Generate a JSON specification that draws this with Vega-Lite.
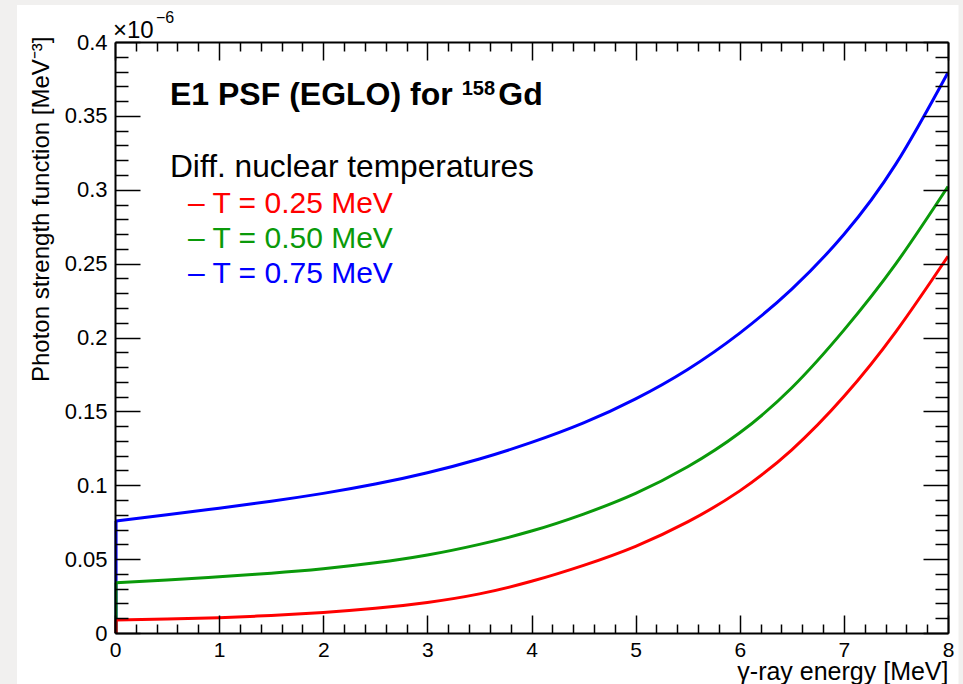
{
  "$schema": "https://vega.github.io/schema/vega-lite/v6.json",
  "width": 833,
  "height": 591,
  "autosize": {"type": "none"},
  "padding": {"left": 115, "top": 42, "right": 15, "bottom": 51},
  "background": "#f1f0ef",
  "config": {
    "view": {"stroke": null},
    "font": "Liberation Sans",
    "axis": {"labelFont": "Liberation Sans", "titleFont": "Liberation Sans", "labelColor": "black", "titleColor": "black", "domainColor": "black", "tickColor": "black", "grid": false}
  },
  "datasets": {
    "psf": [
      {"T": "0.75", "E": 0.01, "psf": 0.0758},
      {"T": "0.75", "E": 0.5, "psf": 0.0800},
      {"T": "0.75", "E": 1, "psf": 0.0845},
      {"T": "0.75", "E": 1.5, "psf": 0.0892},
      {"T": "0.75", "E": 2, "psf": 0.0945},
      {"T": "0.75", "E": 2.5, "psf": 0.1008},
      {"T": "0.75", "E": 3, "psf": 0.1085},
      {"T": "0.75", "E": 3.5, "psf": 0.1178},
      {"T": "0.75", "E": 4, "psf": 0.1290},
      {"T": "0.75", "E": 4.5, "psf": 0.1422},
      {"T": "0.75", "E": 5, "psf": 0.1585},
      {"T": "0.75", "E": 5.5, "psf": 0.1784},
      {"T": "0.75", "E": 6, "psf": 0.2030},
      {"T": "0.75", "E": 6.5, "psf": 0.2328},
      {"T": "0.75", "E": 7, "psf": 0.2697},
      {"T": "0.75", "E": 7.5, "psf": 0.3175},
      {"T": "0.75", "E": 8, "psf": 0.3794},
      {"T": "0.50", "E": 0.01, "psf": 0.0340},
      {"T": "0.50", "E": 0.5, "psf": 0.0359},
      {"T": "0.50", "E": 1, "psf": 0.0381},
      {"T": "0.50", "E": 1.5, "psf": 0.0405},
      {"T": "0.50", "E": 2, "psf": 0.0435},
      {"T": "0.50", "E": 2.5, "psf": 0.0475},
      {"T": "0.50", "E": 3, "psf": 0.0528},
      {"T": "0.50", "E": 3.5, "psf": 0.0600},
      {"T": "0.50", "E": 4, "psf": 0.0690},
      {"T": "0.50", "E": 4.5, "psf": 0.0805},
      {"T": "0.50", "E": 5, "psf": 0.0945},
      {"T": "0.50", "E": 5.5, "psf": 0.1125},
      {"T": "0.50", "E": 6, "psf": 0.1355},
      {"T": "0.50", "E": 6.5, "psf": 0.1660},
      {"T": "0.50", "E": 7, "psf": 0.2050},
      {"T": "0.50", "E": 7.5, "psf": 0.2500},
      {"T": "0.50", "E": 8, "psf": 0.3022},
      {"T": "0.25", "E": 0.01, "psf": 0.0088},
      {"T": "0.25", "E": 0.5, "psf": 0.0094},
      {"T": "0.25", "E": 1, "psf": 0.0104},
      {"T": "0.25", "E": 1.5, "psf": 0.0119},
      {"T": "0.25", "E": 2, "psf": 0.0139},
      {"T": "0.25", "E": 2.5, "psf": 0.0167},
      {"T": "0.25", "E": 3, "psf": 0.0207},
      {"T": "0.25", "E": 3.5, "psf": 0.0265},
      {"T": "0.25", "E": 4, "psf": 0.0350},
      {"T": "0.25", "E": 4.5, "psf": 0.0458},
      {"T": "0.25", "E": 5, "psf": 0.0587},
      {"T": "0.25", "E": 5.5, "psf": 0.0752},
      {"T": "0.25", "E": 6, "psf": 0.0962},
      {"T": "0.25", "E": 6.5, "psf": 0.1240},
      {"T": "0.25", "E": 7, "psf": 0.1600},
      {"T": "0.25", "E": 7.5, "psf": 0.2040},
      {"T": "0.25", "E": 8, "psf": 0.2550}
    ]
  },
  "layer": [
    {
      "data": {"values": [{}]},
      "mark": {"type": "rect", "fill": "white"},
      "encoding": {
        "x": {"datum": -0.941, "type": "quantitative", "scale": {"domain": [0, 8], "nice": false, "zero": false}, "axis": null},
        "x2": {"datum": 8.101},
        "y": {"datum": 0.425, "type": "quantitative", "scale": {"domain": [0, 0.4], "nice": false, "zero": false}, "axis": null},
        "y2": {"datum": -0.06}
      }
    },
    {
      "data": {"name": "psf"},
      "transform": [{"filter": "datum.E < 0.05"}],
      "mark": {"type": "rule", "strokeWidth": 3},
      "encoding": {
        "x": {"field": "E", "type": "quantitative", "scale": {"domain": [0, 8], "nice": false, "zero": false}, "axis": null},
        "y": {"field": "psf", "type": "quantitative", "scale": {"domain": [0, 0.4], "nice": false, "zero": false}, "axis": null},
        "y2": {"datum": 0},
        "color": {"field": "T", "type": "nominal", "legend": null}
      }
    },
    {
      "data": {"name": "psf"},
      "transform": [{"filter": "datum.T == '0.75'"}],
      "mark": {"type": "line", "strokeWidth": 3, "interpolate": "natural"},
      "encoding": {
        "x": {"field": "E", "type": "quantitative", "scale": {"domain": [0, 8], "nice": false, "zero": false},
          "axis": {"orient": "bottom", "values": [0, 1, 2, 3, 4, 5, 6, 7, 8], "format": "d", "ticks": false, "labelFontSize": 21, "labelPadding": 6, "labelFlush": false, "title": "γ-ray energy [MeV]", "titleFontSize": 25, "titleFontWeight": "normal", "titleAnchor": "end", "titlePadding": -1, "domainWidth": 2, "zindex": 1}},
        "y": {"field": "psf", "type": "quantitative", "scale": {"domain": [0, 0.4], "nice": false, "zero": false},
          "axis": {"orient": "left", "values": [0, 0.05, 0.1, 0.15, 0.2, 0.25, 0.3, 0.35, 0.4], "format": "~g", "ticks": false, "labelFontSize": 22, "labelPadding": 8, "labelFlush": false, "title": "Photon strength function [MeV⁻³]", "titleFontSize": 24, "titleFontWeight": "normal", "titleAnchor": "end", "titleY": -6, "titlePadding": 11, "domainWidth": 2, "zindex": 1}},
        "color": {"field": "T", "type": "nominal", "scale": {"domain": ["0.25", "0.50", "0.75"], "range": ["#ff0000", "#0a9a0a", "#0000ff"]}, "legend": null}
      }
    },
    {
      "data": {"name": "psf"},
      "transform": [{"filter": "datum.T == '0.50'"}],
      "mark": {"type": "line", "strokeWidth": 3, "interpolate": "natural"},
      "encoding": {
        "x": {"field": "E", "type": "quantitative", "scale": {"domain": [0, 8], "nice": false, "zero": false},
          "axis": {"orient": "bottom", "values": [0, 1, 2, 3, 4, 5, 6, 7, 8], "labels": false, "domain": false, "title": null, "tickSize": -18, "tickWidth": 1.5, "zindex": 1}},
        "y": {"field": "psf", "type": "quantitative", "scale": {"domain": [0, 0.4], "nice": false, "zero": false},
          "axis": {"orient": "left", "values": [0, 0.05, 0.1, 0.15, 0.2, 0.25, 0.3, 0.35, 0.4], "labels": false, "domain": false, "title": null, "tickSize": -25, "tickWidth": 1.5, "zindex": 1}},
        "color": {"field": "T", "type": "nominal", "legend": null}
      }
    },
    {
      "data": {"name": "psf"},
      "transform": [{"filter": "datum.T == '0.25'"}],
      "mark": {"type": "line", "strokeWidth": 3, "interpolate": "natural"},
      "encoding": {
        "x": {"field": "E", "type": "quantitative", "scale": {"domain": [0, 8], "nice": false, "zero": false},
          "axis": {"orient": "bottom", "values": [0.2, 0.4, 0.6, 0.8, 1.2, 1.4, 1.6, 1.8, 2.2, 2.4, 2.6, 2.8, 3.2, 3.4, 3.6, 3.8, 4.2, 4.4, 4.6, 4.8, 5.2, 5.4, 5.6, 5.8, 6.2, 6.4, 6.6, 6.8, 7.2, 7.4, 7.6, 7.8], "labels": false, "domain": false, "title": null, "tickSize": -9, "tickWidth": 1.5, "zindex": 1}},
        "y": {"field": "psf", "type": "quantitative", "scale": {"domain": [0, 0.4], "nice": false, "zero": false},
          "axis": {"orient": "left", "values": [0.01, 0.02, 0.03, 0.04, 0.06, 0.07, 0.08, 0.09, 0.11, 0.12, 0.13, 0.14, 0.16, 0.17, 0.18, 0.19, 0.21, 0.22, 0.23, 0.24, 0.26, 0.27, 0.28, 0.29, 0.31, 0.32, 0.33, 0.34, 0.36, 0.37, 0.38, 0.39], "labels": false, "domain": false, "title": null, "tickSize": -13, "tickWidth": 1.5, "zindex": 1}},
        "color": {"field": "T", "type": "nominal", "legend": null}
      }
    },
    {
      "data": {"values": [{}]},
      "mark": {"type": "text", "text": "E1 PSF (EGLO) for", "align": "left", "baseline": "alphabetic", "fontSize": 32, "fontWeight": "bold", "font": "Liberation Sans", "color": "black"},
      "encoding": {
        "x": {"datum": 0.528, "type": "quantitative", "scale": {"domain": [0, 8], "nice": false, "zero": false},
          "axis": {"orient": "top", "values": [0, 1, 2, 3, 4, 5, 6, 7, 8], "labels": false, "domain": true, "domainWidth": 2, "title": null, "tickSize": -18, "tickWidth": 1.5, "zindex": 1}},
        "y": {"datum": 0.3574, "type": "quantitative", "scale": {"domain": [0, 0.4], "nice": false, "zero": false},
          "axis": {"orient": "right", "values": [0, 0.05, 0.1, 0.15, 0.2, 0.25, 0.3, 0.35, 0.4], "labels": false, "domain": true, "domainWidth": 2, "title": null, "tickSize": -25, "tickWidth": 1.5, "zindex": 1}}
      }
    },
    {
      "data": {"values": [{}]},
      "mark": {"type": "text", "text": "158", "align": "left", "baseline": "alphabetic", "fontSize": 20, "fontWeight": "bold", "font": "Liberation Sans", "color": "black"},
      "encoding": {
        "x": {"datum": 3.33, "type": "quantitative", "scale": {"domain": [0, 8], "nice": false, "zero": false},
          "axis": {"orient": "top", "values": [0.2, 0.4, 0.6, 0.8, 1.2, 1.4, 1.6, 1.8, 2.2, 2.4, 2.6, 2.8, 3.2, 3.4, 3.6, 3.8, 4.2, 4.4, 4.6, 4.8, 5.2, 5.4, 5.6, 5.8, 6.2, 6.4, 6.6, 6.8, 7.2, 7.4, 7.6, 7.8], "labels": false, "domain": false, "title": null, "tickSize": -9, "tickWidth": 1.5, "zindex": 1}},
        "y": {"datum": 0.3641, "type": "quantitative", "scale": {"domain": [0, 0.4], "nice": false, "zero": false},
          "axis": {"orient": "right", "values": [0.01, 0.02, 0.03, 0.04, 0.06, 0.07, 0.08, 0.09, 0.11, 0.12, 0.13, 0.14, 0.16, 0.17, 0.18, 0.19, 0.21, 0.22, 0.23, 0.24, 0.26, 0.27, 0.28, 0.29, 0.31, 0.32, 0.33, 0.34, 0.36, 0.37, 0.38, 0.39], "labels": false, "domain": false, "title": null, "tickSize": -13, "tickWidth": 1.5, "zindex": 1}}
      }
    },
    {
      "data": {"values": [{}]},
      "mark": {"type": "text", "text": "Gd", "align": "left", "baseline": "alphabetic", "fontSize": 32, "fontWeight": "bold", "font": "Liberation Sans", "color": "black"},
      "encoding": {
        "x": {"datum": 3.681, "type": "quantitative", "axis": null},
        "y": {"datum": 0.3574, "type": "quantitative", "axis": null}
      }
    },
    {
      "data": {"values": [{}]},
      "mark": {"type": "text", "text": "Diff. nuclear temperatures", "align": "left", "baseline": "alphabetic", "fontSize": 31.7, "font": "Liberation Sans", "color": "black"},
      "encoding": {
        "x": {"datum": 0.528, "type": "quantitative", "axis": null},
        "y": {"datum": 0.3084, "type": "quantitative", "axis": null}
      }
    },
    {
      "data": {"values": [{}]},
      "mark": {"type": "text", "text": "– T = 0.25 MeV", "align": "left", "baseline": "alphabetic", "fontSize": 30, "font": "Liberation Sans", "color": "#ff0000"},
      "encoding": {
        "x": {"datum": 0.701, "type": "quantitative", "axis": null},
        "y": {"datum": 0.2841, "type": "quantitative", "axis": null}
      }
    },
    {
      "data": {"values": [{}]},
      "mark": {"type": "text", "text": "– T = 0.50 MeV", "align": "left", "baseline": "alphabetic", "fontSize": 30, "font": "Liberation Sans", "color": "#0a9a0a"},
      "encoding": {
        "x": {"datum": 0.701, "type": "quantitative", "axis": null},
        "y": {"datum": 0.2604, "type": "quantitative", "axis": null}
      }
    },
    {
      "data": {"values": [{}]},
      "mark": {"type": "text", "text": "– T = 0.75 MeV", "align": "left", "baseline": "alphabetic", "fontSize": 30, "font": "Liberation Sans", "color": "#0000ff"},
      "encoding": {
        "x": {"datum": 0.701, "type": "quantitative", "axis": null},
        "y": {"datum": 0.2367, "type": "quantitative", "axis": null}
      }
    },
    {
      "data": {"values": [{}]},
      "mark": {"type": "text", "text": "×10", "align": "left", "baseline": "alphabetic", "fontSize": 24, "font": "Liberation Sans", "color": "black", "dx": -2, "dy": -4.5},
      "encoding": {
        "x": {"datum": 0, "type": "quantitative", "axis": null},
        "y": {"datum": 0.4, "type": "quantitative", "axis": null}
      }
    },
    {
      "data": {"values": [{}]},
      "mark": {"type": "text", "text": "−6", "align": "left", "baseline": "alphabetic", "fontSize": 16, "font": "Liberation Sans", "color": "black", "dx": 41, "dy": -19},
      "encoding": {
        "x": {"datum": 0, "type": "quantitative", "axis": null},
        "y": {"datum": 0.4, "type": "quantitative", "axis": null}
      }
    }
  ],
  "resolve": {"axis": {"x": "independent", "y": "independent"}}
}
